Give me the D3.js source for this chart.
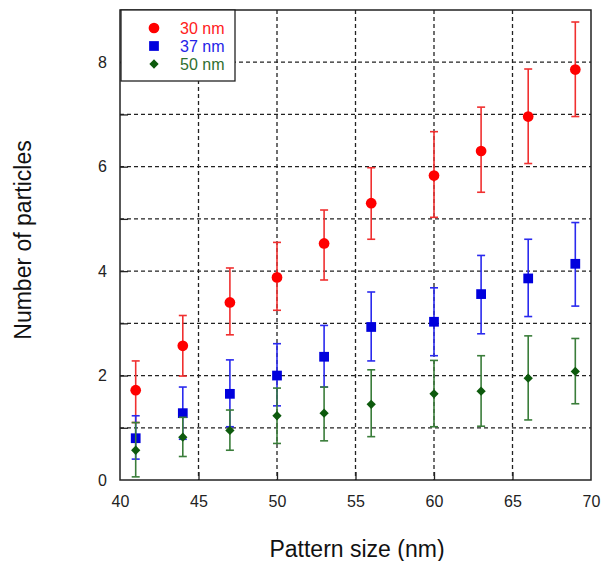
<!DOCTYPE html>
<html>
<head>
<meta charset="utf-8">
<script src="https://cdn.jsdelivr.net/npm/d3@7"></script>
<style>
  body { margin: 0; background: #fff; }
  text { font-family: "Liberation Sans", Arial, sans-serif; }
</style>
</head>
<body>
<svg id="chart" width="603" height="561"></svg>
<script>
// pattern sizes (nm)
let patternSize = [41, 44, 47, 50, 53, 56, 60, 63, 66, 69];

// 30 nm particles
let mean30 = [1.72, 2.57, 3.40, 3.88, 4.53, 5.30, 5.83, 6.30, 6.96, 7.86];
let low30  = [1.10, 1.99, 2.78, 3.25, 3.83, 4.61, 5.03, 5.51, 6.06, 6.96];
let high30 = [2.28, 3.15, 4.06, 4.55, 5.17, 5.98, 6.67, 7.14, 7.87, 8.77];

// 37 nm particles
let mean37 = [0.80, 1.28, 1.65, 2.00, 2.36, 2.93, 3.03, 3.56, 3.86, 4.14];
let low37  = [0.40, 0.78, 1.02, 1.42, 1.78, 2.28, 2.38, 2.80, 3.13, 3.33];
let high37 = [1.23, 1.78, 2.30, 2.61, 2.96, 3.60, 3.68, 4.30, 4.61, 4.93];

// 50 nm particles
let mean50 = [0.57, 0.82, 0.95, 1.23, 1.28, 1.45, 1.65, 1.70, 1.95, 2.08];
let low50  = [0.06, 0.45, 0.57, 0.70, 0.75, 0.83, 1.02, 1.03, 1.15, 1.46];
let high50 = [1.10, 1.20, 1.34, 1.76, 1.78, 2.11, 2.29, 2.38, 2.76, 2.71];

let xTicks = [40, 45, 50, 55, 60, 65, 70];
let yTicks = [0, 2, 4, 6, 8];

const margin = {top: 10, right: 12, bottom: 81, left: 120};
let svg = d3.select("#chart");
let width = +svg.attr("width");
let height = +svg.attr("height");
let plotWidth = width - margin.left - margin.right;
let plotHeight = height - margin.top - margin.bottom;

let xScale = d3.scaleLinear().domain([40, 70]).range([0, plotWidth]);
let yScale = d3.scaleLinear().domain([0, 9]).range([plotHeight, 0]);

let plot = svg.append("g")
  .attr("transform", "translate(" + margin.left + "," + margin.top + ")");

// dashed grid
plot.append("g")
  .selectAll("line.vgrid")
  .data([45, 50, 55, 60, 65])
  .enter().append("line")
  .attr("x1", d => xScale(d)).attr("x2", d => xScale(d))
  .attr("y1", 0).attr("y2", plotHeight)
  .attr("stroke", "#222").attr("stroke-width", 1.3)
  .attr("stroke-dasharray", "4,3");

plot.append("g")
  .selectAll("line.hgrid")
  .data(d3.range(1, 9))
  .enter().append("line")
  .attr("x1", 0).attr("x2", plotWidth)
  .attr("y1", d => yScale(d)).attr("y2", d => yScale(d))
  .attr("stroke", "#222").attr("stroke-width", 1.3)
  .attr("stroke-dasharray", "4,3");

// axes with inward ticks
let xAxis = plot.append("g")
  .attr("transform", "translate(0," + plotHeight + ")")
  .call(d3.axisBottom(xScale).tickValues(xTicks).tickSizeInner(-8).tickSizeOuter(0).tickPadding(16));
let yAxis = plot.append("g")
  .call(d3.axisLeft(yScale).tickValues(d3.range(0, 10)).tickSizeInner(-8).tickSizeOuter(0).tickPadding(13)
    .tickFormat(d => yTicks.includes(d) ? d : ""));

[xAxis, yAxis].forEach(ax => {
  ax.select(".domain").remove();
  ax.selectAll("line").attr("stroke", "#222").attr("stroke-width", 1.3);
  ax.selectAll("text").attr("font-size", "16px").attr("fill", "#222");
});
xAxis.selectAll(".tick").filter(d => d == 40 || d == 70).select("line").remove();
yAxis.selectAll(".tick").filter(d => d == 0).select("line").remove();

// frame
plot.append("rect")
  .attr("x", 0).attr("y", 0)
  .attr("width", plotWidth).attr("height", plotHeight)
  .attr("fill", "none").attr("stroke", "#222").attr("stroke-width", 1.5);

let series = [
  {name: "30 nm", mean: mean30, low: low30, high: high30, color: "#ff0000", bar: "#f03030", text: "#ff2020", shape: d3.symbolCircle, size: 90},
  {name: "37 nm", mean: mean37, low: low37, high: high37, color: "#0000dd", bar: "#2a2aee", text: "#2424e8", shape: d3.symbolSquare, size: 95},
  {name: "50 nm", mean: mean50, low: low50, high: high50, color: "#0d5a0d", bar: "#3a7d3a", text: "#2f6f2f", shape: d3.symbolDiamond2, size: 55}
];

series.forEach(s => {
  let g = plot.append("g");
  let pts = patternSize.map((x, i) => ({x: x, m: s.mean[i], lo: s.low[i], hi: s.high[i]}));
  g.selectAll("line.err").data(pts).enter().append("line")
    .attr("x1", d => xScale(d.x)).attr("x2", d => xScale(d.x))
    .attr("y1", d => yScale(d.lo)).attr("y2", d => yScale(d.hi))
    .attr("stroke", s.bar).attr("stroke-width", 1.6);
  ["lo", "hi"].forEach(k => {
    g.selectAll("line.cap" + k).data(pts).enter().append("line")
      .attr("x1", d => xScale(d.x) - 4).attr("x2", d => xScale(d.x) + 4)
      .attr("y1", d => yScale(d[k])).attr("y2", d => yScale(d[k]))
      .attr("stroke", s.bar).attr("stroke-width", 1.6);
  });
  g.selectAll("path.mark").data(pts).enter().append("path")
    .attr("d", d3.symbol().type(s.shape).size(s.size))
    .attr("transform", d => "translate(" + xScale(d.x) + "," + yScale(d.m) + ")")
    .attr("fill", s.color);
});

// legend
let legend = plot.append("g").attr("transform", "translate(1,0)");
legend.append("rect")
  .attr("x", 0).attr("y", 0).attr("width", 114).attr("height", 71)
  .attr("fill", "#fff").attr("stroke", "#222").attr("stroke-width", 1.3);
series.forEach((s, i) => {
  let yy = 18 + i * 18;
  legend.append("path")
    .attr("d", d3.symbol().type(s.shape).size(s.size))
    .attr("transform", "translate(33," + yy + ")")
    .attr("fill", s.color);
  legend.append("text")
    .attr("x", 59).attr("y", yy)
    .attr("dominant-baseline", "central")
    .attr("font-size", "16px")
    .attr("fill", s.text)
    .text(s.name);
});

// axis titles
svg.append("text")
  .attr("x", 357)
  .attr("y", 557)
  .attr("text-anchor", "middle")
  .attr("font-size", "23px")
  .attr("fill", "#111")
  .text("Pattern size (nm)");

svg.append("text")
  .attr("transform", "translate(31," + 240 + ") rotate(-90)")
  .attr("text-anchor", "middle")
  .attr("font-size", "23px")
  .attr("fill", "#111")
  .text("Number of particles");
</script>
</body>
</html>
